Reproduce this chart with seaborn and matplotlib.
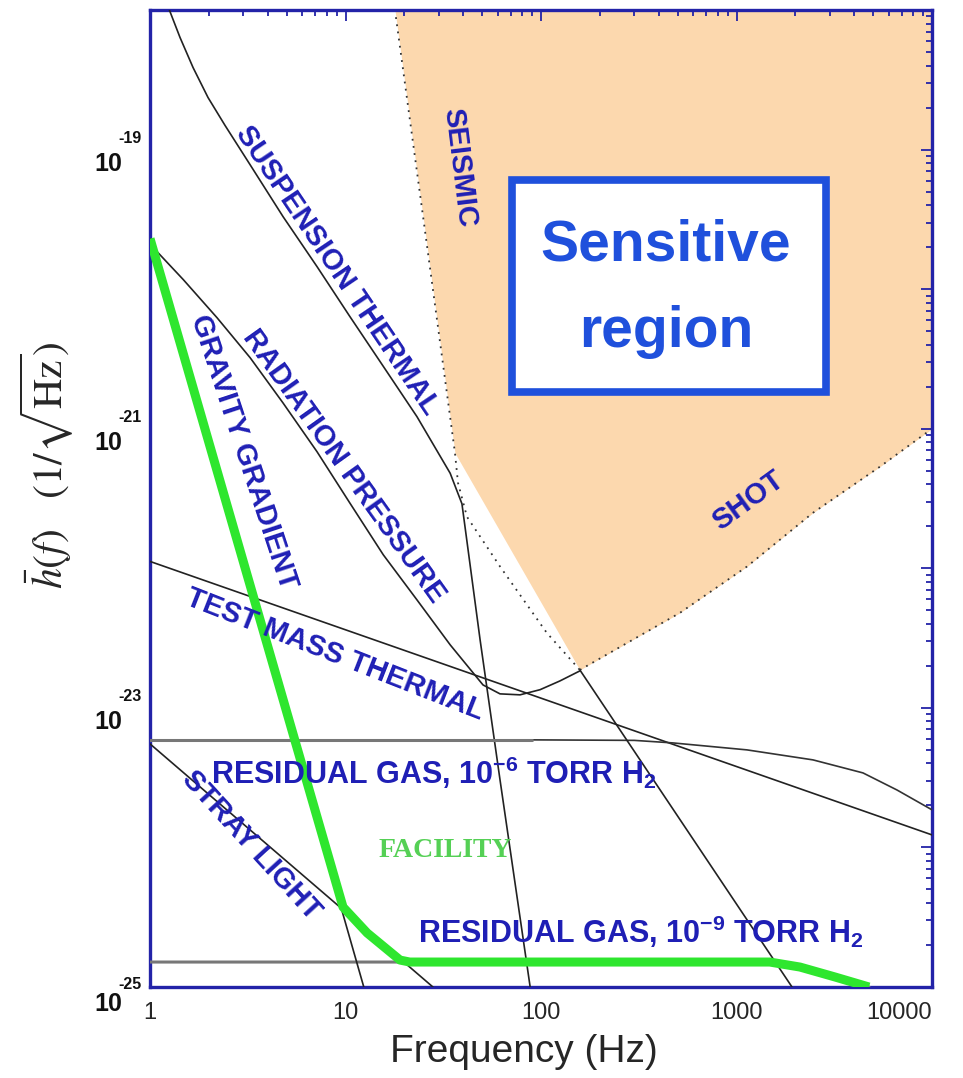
import matplotlib
matplotlib.use('Agg')
import matplotlib.pyplot as plt
import matplotlib.ticker as mticker
import matplotlib.patches as mpatches
import matplotlib.transforms as mtransforms
import numpy as np
import seaborn as sns

# Noise curves: frequency (Hz) and strain (1/sqrt(Hz))
susp_f = [1.19, 1.236, 1.424, 1.66, 1.98, 2.419, 3.248, 4.79, 7.15, 10.5, 15.6, 23.2, 34.3, 39.4]
susp_h = [1.23e-18, 1.06e-18, 6.35e-19, 3.87e-19, 2.36e-19, 1.49e-19, 7.8e-20, 3.31e-20,
          1.45e-20, 6.4e-21, 2.8e-21, 1.22e-21, 4.8e-22, 2.9e-22]
seis_f = [39.4, 48.8, 61.7, 88.0]
seis_h = [2.9e-22, 3.07e-23, 3.05e-24, 1.0e-25]

bound_f = [17.9, 25.5, 36.3, 37.6, 41.8, 61.7, 107, 158]
bound_h = [1.0e-18, 2.62e-20, 6.7e-22, 4.1e-22, 2.34e-22, 1.03e-22, 3.45e-23, 1.87e-23]
shot_f = [158, 514, 1132, 2462, 5420, 10000]
shot_h = [1.87e-23, 4.8e-23, 1.03e-22, 2.5e-22, 5.35e-22, 1.0e-21]

rad_f = [1, 1.48, 2.20, 3.25, 4.79, 7.15, 10.5, 15.6, 23.2, 34.3, 50.5, 61.7, 78.1, 98.9, 125, 158]
rad_h = [2.1e-20, 1.17e-20, 6.25e-21, 3.23e-21, 1.53e-21, 6.84e-22, 2.95e-22, 1.25e-22,
         5.94e-23, 2.83e-23, 1.46e-23, 1.26e-23, 1.24e-23, 1.35e-23, 1.56e-23, 1.84e-23]

tm_f = [1, 10000]
tm_h = [1.12e-22, 1.23e-24]

rg6_f = [1, 90, 300, 473, 1132, 2462, 4436, 6622, 10000]
rg6_h = [5.9e-24, 5.9e-24, 5.85e-24, 5.61e-24, 5.0e-24, 4.24e-24, 3.42e-24, 2.58e-24, 1.86e-24]
rg9_f = [1, 300, 1480, 2113, 3190, 4764]
rg9_h = [1.51e-25, 1.51e-25, 1.51e-25, 1.39e-25, 1.18e-25, 1.0e-25]

gg_f = [1, 12.4]
gg_h = [2.3e-20, 1.0e-25]
stray_f = [1, 28.0]
stray_h = [5.52e-24, 1.0e-25]
steep_f = [158, 1923]
steep_h = [1.87e-23, 1.0e-25]

fac_f = [1, 9.71, 12.9, 19.0, 21.3, 1480, 2113, 3190, 4764]
fac_h = [2.3e-20, 3.74e-25, 2.44e-25, 1.56e-25, 1.51e-25, 1.51e-25, 1.39e-25, 1.18e-25, 1.0e-25]

x_ticks = [1, 10, 100, 1000, 10000]
y_ticks = [1e-25, 1e-24, 1e-23, 1e-22, 1e-21, 1e-20, 1e-19, 1e-18]
y_labelled = [-25, -23, -21, -19]

sns.set_style('white')
plt.rcParams['font.family'] = ['Liberation Sans', 'DejaVu Sans']
plt.rcParams['mathtext.fontset'] = 'custom'
plt.rcParams['mathtext.rm'] = 'Liberation Sans'
plt.rcParams['mathtext.bf'] = 'Liberation Sans:bold'
plt.rcParams['mathtext.it'] = 'Liberation Sans:italic'

NAVY = '#2323a8'
TXT = '#1f1fb5'
BLUE = '#1f50dc'

fig = plt.figure(figsize=(9.63, 10.78), dpi=100)
ax = fig.add_axes([0.1558, 0.0844, 0.812, 0.9063])
ax.set_xscale('log')
ax.set_yscale('log')


def curve(f, h, **kw):
    sns.lineplot(x=f, y=h, ax=ax, sort=False, estimator=None, legend=False, **kw)


# sensitive region shading (its edge cuts straight across below the seismic wall)
ax.fill_between(bound_f[:3] + shot_f, bound_h[:3] + shot_h, 1.5e-18,
                color='#fcd8ae', lw=0, zorder=0)
curve(bound_f, bound_h, color='#333333', lw=1.3, linestyle=(0, (1, 3)), zorder=2)
curve(shot_f, shot_h, color='#333333', lw=1.3, linestyle=(0, (1, 3)), zorder=2)

# thin noise curves
curve(susp_f + seis_f[1:], susp_h + seis_h[1:], color='#222222', lw=1.2, zorder=3)
curve(rad_f, rad_h, color='#222222', lw=1.2, zorder=3)
curve(tm_f, tm_h, color='#222222', lw=1.2, zorder=3)
curve(rg6_f, rg6_h, color='#333333', lw=1.2, zorder=3)
curve(rg6_f[:2], rg6_h[:2], color='#777777', lw=2.2, zorder=3)
curve(rg9_f, rg9_h, color='#777777', lw=2.2, zorder=3)
curve(gg_f, gg_h, color='#222222', lw=1.2, zorder=3)
curve(stray_f, stray_h, color='#222222', lw=1.2, zorder=3)
curve(steep_f, steep_h, color='#222222', lw=1.2, zorder=3)

# facility limit
curve(fac_f, fac_h, color='#2ee62e', lw=6.5, zorder=4, solid_capstyle='butt')

ax.set_xlim(1, 1e4)
ax.set_ylim(1e-25, 1e-18)

ax.xaxis.set_major_locator(mticker.FixedLocator(x_ticks))
ax.xaxis.set_major_formatter(mticker.FuncFormatter(lambda v, p: '%d' % round(v)))
ax.xaxis.set_minor_locator(mticker.LogLocator(base=10, subs=np.arange(2, 10), numticks=30))
ax.xaxis.set_minor_formatter(mticker.NullFormatter())
ax.yaxis.set_major_locator(mticker.FixedLocator(y_ticks))
ax.yaxis.set_major_formatter(mticker.NullFormatter())
ax.yaxis.set_minor_locator(mticker.LogLocator(base=10, subs=np.arange(2, 10), numticks=30))
ax.yaxis.set_minor_formatter(mticker.NullFormatter())

ax.tick_params(which='both', direction='in', top=True, right=True, color=NAVY, width=1.3)
ax.tick_params(which='major', length=8)
ax.tick_params(which='minor', length=4)
ax.tick_params(axis='x', labelsize=17, pad=11)
ax.xaxis.get_major_ticks()[-1].label1.set_horizontalalignment('right')
for s in ax.spines.values():
    s.set_color(NAVY)
    s.set_linewidth(2.4)

# y tick labels drawn as "10" with a raised exponent, like the original
ylab_tr = mtransforms.blended_transform_factory(ax.transAxes, ax.transData)
shift = {-25: (-0.17, 0.03)}
for e in y_labelled:
    d10, dex = shift.get(e, (-0.14, 0.11))
    ax.text(-0.036, 10.0 ** e, '10', transform=ylab_tr + mtransforms.ScaledTranslation(
        0, d10, fig.dpi_scale_trans), ha='right', va='center', fontsize=18,
        fontweight='bold', color='#111111')
    ax.text(-0.041, 10.0 ** e, '-%d' % -e, transform=ylab_tr + mtransforms.ScaledTranslation(
        0, dex, fig.dpi_scale_trans), ha='left', va='center', fontsize=11.5,
        fontweight='bold', color='#111111')

ax.set_xlabel('Frequency (Hz)', fontsize=28)
ax.xaxis.set_label_coords(0.478, -0.048)
ax.set_ylabel(r'$\bar{h}(f)\ \ \ (1/\sqrt{\mathrm{Hz}})$', fontsize=30, math_fontfamily='stix')
ax.yaxis.set_label_coords(-0.095, 0.534)

# sensitive region box
ax.add_patch(mpatches.Rectangle((0.463, 0.609), 0.4015, 0.217, transform=ax.transAxes,
                                fc='white', ec=BLUE, lw=5.5, zorder=5))
ax.text(0.66, 0.744, 'Sensitive', transform=ax.transAxes, ha='center', va='baseline',
        fontsize=41, fontweight='bold', color=BLUE, zorder=6)
ax.text(0.66, 0.655, 'region', transform=ax.transAxes, ha='center', va='baseline',
        fontsize=41, fontweight='bold', color=BLUE, zorder=6)

labels = [
    ('SUSPENSION THERMAL', 0.239, 0.734, -56),
    ('SEISMIC', 0.396, 0.839, -83),
    ('RADIATION PRESSURE', 0.248, 0.533, -54.5),
    ('GRAVITY GRADIENT', 0.120, 0.548, -71.7),
    ('TEST MASS THERMAL', 0.237, 0.340, -21.4),
    ('SHOT', 0.765, 0.498, 36),
    ('STRAY LIGHT', 0.130, 0.145, -47.6),
]
for txt, x, y, rot in labels:
    ax.text(x, y, txt, transform=ax.transAxes, ha='center', va='center', rotation=rot,
            rotation_mode='anchor', fontsize=21, fontweight='bold', color=TXT, zorder=6)

ax.text(0.363, 0.208, r'RESIDUAL GAS, $\mathbf{10^{-6}}$ TORR $\mathbf{H_2}$',
        transform=ax.transAxes, ha='center', va='baseline', fontsize=22,
        fontweight='bold', color=TXT, zorder=6)
ax.text(0.628, 0.045, r'RESIDUAL GAS, $\mathbf{10^{-9}}$ TORR $\mathbf{H_2}$',
        transform=ax.transAxes, ha='center', va='baseline', fontsize=22,
        fontweight='bold', color=TXT, zorder=6)
ax.text(0.377, 0.140, 'FACILITY', transform=ax.transAxes, ha='center', va='center',
        fontsize=20, fontweight='bold', family='Liberation Serif', color='#55d055', zorder=6)

fig.savefig('out.png', dpi=100)
